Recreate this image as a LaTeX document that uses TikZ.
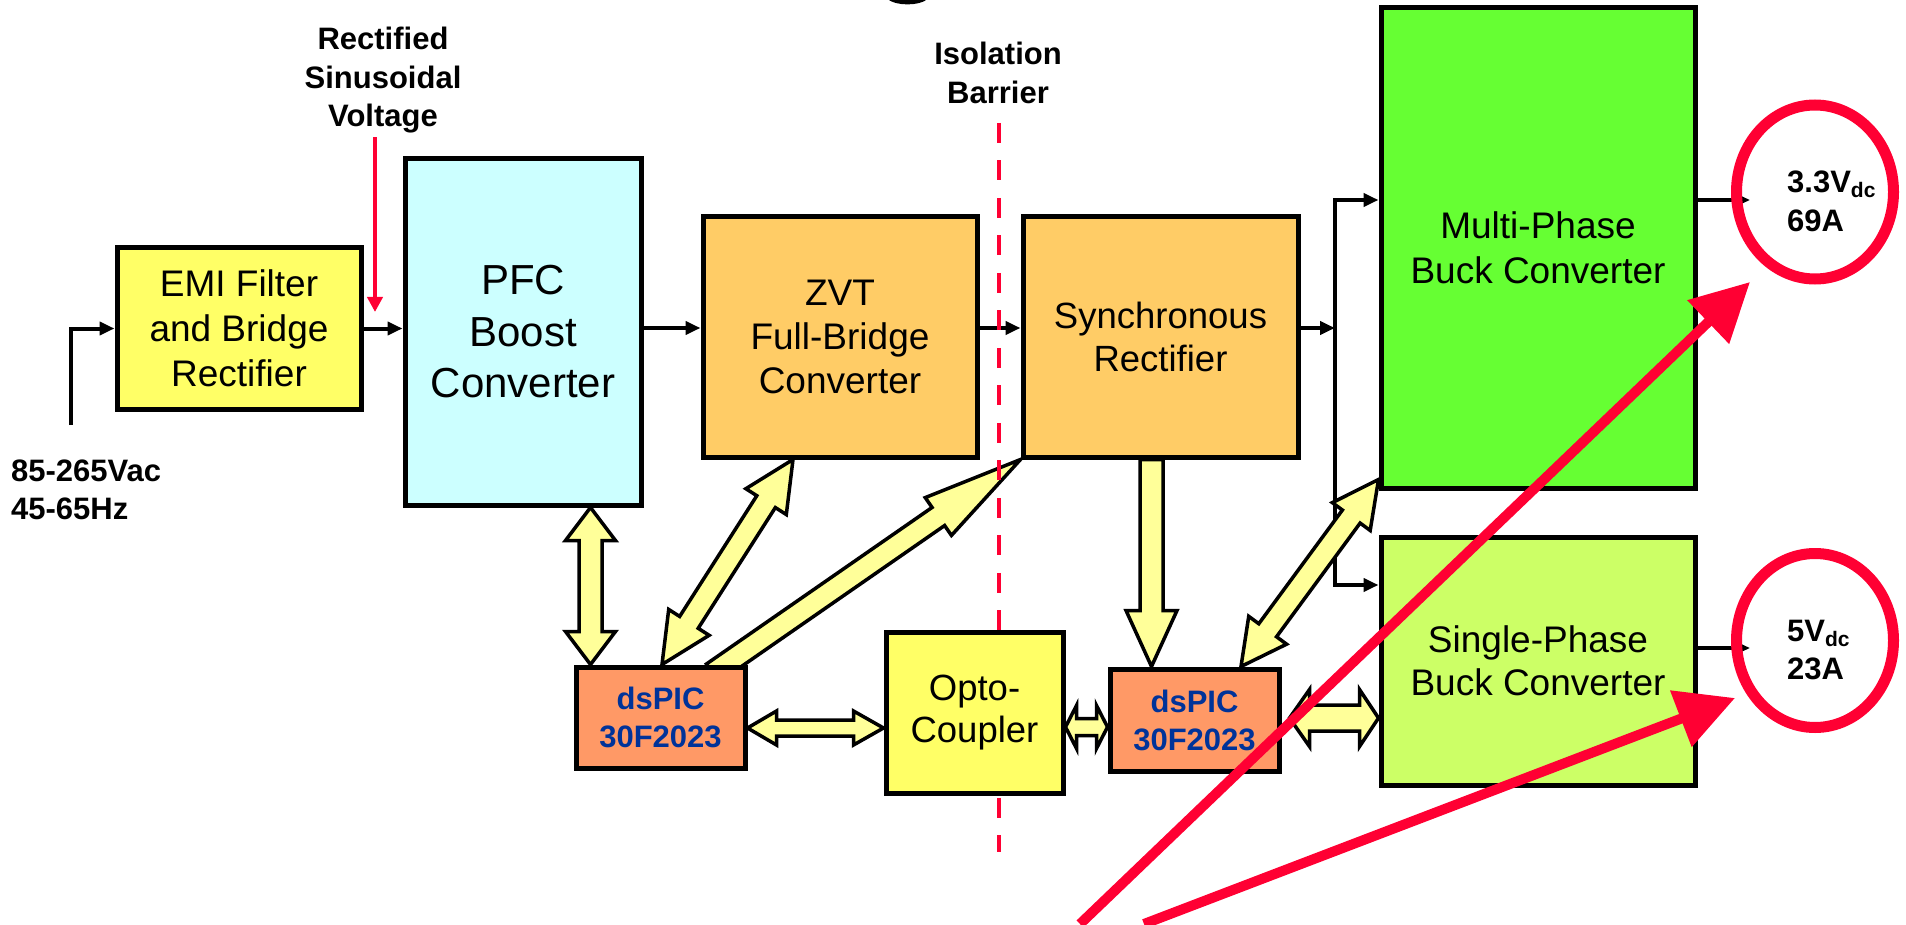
\documentclass[tikz,border=0pt]{standalone}
\usepackage{fontspec}
\setmainfont{Liberation Sans}
\usetikzlibrary{arrows.meta,calc,backgrounds}

\definecolor{emiyellow}{RGB}{255,255,102}
\definecolor{pfccyan}{RGB}{204,255,255}
\definecolor{convorange}{RGB}{255,204,102}
\definecolor{mpgreen}{RGB}{102,255,51}
\definecolor{spgreen}{RGB}{204,255,102}
\definecolor{picorange}{RGB}{255,153,102}
\definecolor{picblue}{RGB}{0,51,153}
\definecolor{fatyellow}{RGB}{255,255,153}
\definecolor{alertred}{RGB}{255,0,51}

% subscript "dc" for the output voltages
\newcommand\dcsub{\raisebox{-5pt}{\fontsize{21}{21}\selectfont dc}}

% double-headed block arrow: from, to, shaft half width, head half width,
% head length at "from", head length at "to" (all in pt)
\newcommand\dblfat[6]{%
  \filldraw[fat] let \p1=(#1), \p2=(#2), \n1={atan2(\y2-\y1,\x2-\x1)} in
    (\p1)
    -- ($(\p1)+(\n1:#5pt)+(\n1+90:#4pt)$)
    -- ($(\p1)+(\n1:#5pt)+(\n1+90:#3pt)$)
    -- ($(\p2)+(\n1+180:#6pt)+(\n1+90:#3pt)$)
    -- ($(\p2)+(\n1+180:#6pt)+(\n1+90:#4pt)$)
    -- (\p2)
    -- ($(\p2)+(\n1+180:#6pt)+(\n1-90:#4pt)$)
    -- ($(\p2)+(\n1+180:#6pt)+(\n1-90:#3pt)$)
    -- ($(\p1)+(\n1:#5pt)+(\n1-90:#3pt)$)
    -- ($(\p1)+(\n1:#5pt)+(\n1-90:#4pt)$)
    -- cycle;}

% single-headed block arrow: from (flat tail), to (tip), shaft half width,
% head half width, head length
\newcommand\onefat[5]{%
  \filldraw[fat] let \p1=(#1), \p2=(#2), \n1={atan2(\y2-\y1,\x2-\x1)} in
    ($(\p1)+(\n1+90:#3pt)$)
    -- ($(\p2)+(\n1+180:#5pt)+(\n1+90:#3pt)$)
    -- ($(\p2)+(\n1+180:#5pt)+(\n1+90:#4pt)$)
    -- (\p2)
    -- ($(\p2)+(\n1+180:#5pt)+(\n1-90:#4pt)$)
    -- ($(\p2)+(\n1+180:#5pt)+(\n1-90:#3pt)$)
    -- ($(\p1)+(\n1-90:#3pt)$)
    -- cycle;}

\tikzset{
  blk/.style={draw=black, line width=5pt, inner sep=0pt, align=center},
  tipb/.tip={Triangle[length=15pt,width=13pt]},
  wire/.style={draw=black, line width=4pt, -tipb},
  fat/.style={fill=fatyellow, draw=black, line width=3.5pt, line join=miter},
  lbl/.style={inner sep=0pt, font=\bfseries\fontsize{31}{38.5}\selectfont},
  barrier/.style={draw=alertred, line width=4.5pt, dash pattern=on 20pt off 17.5pt},
  annot/.style={draw=alertred, line width=10pt, -{Triangle[length=58pt,width=58pt]}},
  ring/.style={draw=alertred, line width=11pt},
}

\begin{document}
\begin{tikzpicture}[x=1pt,y=-1pt]
\begin{pgfonlayer}{background}
  \fill[white] (0,0) rectangle (1906,925);
\end{pgfonlayer}
\useasboundingbox (0,0) rectangle (1906,925);

% ---- blocks ----
\node[blk, fill=emiyellow, minimum width=244pt, minimum height=162pt,
      font=\fontsize{37}{45}\selectfont] (emi) at (239,328.5) {EMI Filter\\and Bridge\\Rectifier};
\node[blk, fill=pfccyan, minimum width=236pt, minimum height=346pt,
      font=\fontsize{42}{51.5}\selectfont] (pfc) at (523,332) {PFC\\Boost\\Converter};
\node[blk, fill=convorange, minimum width=274pt, minimum height=240pt,
      font=\fontsize{37}{44}\selectfont] (zvt) at (840,337) {ZVT\\Full-Bridge\\Converter};
\node[blk, fill=convorange, minimum width=275pt, minimum height=240pt,
      font=\fontsize{36.5}{43}\selectfont] (sr) at (1160.5,337) {Synchronous\\Rectifier};
\node[blk, fill=mpgreen, minimum width=314pt, minimum height=480pt,
      font=\fontsize{37}{45}\selectfont] (mp) at (1538,248) {Multi-Phase\\Buck Converter};
\node[blk, fill=spgreen, minimum width=314pt, minimum height=248pt,
      font=\fontsize{37}{43}\selectfont] (sp) at (1538,661) {Single-Phase\\Buck Converter};
\node[blk, fill=picorange, minimum width=169pt, minimum height=101pt, text=picblue,
      font=\bfseries\fontsize{31}{38}\selectfont] (dsp1) at (660.5,717.5) {dsPIC\\30F2023};
\node[blk, fill=picorange, minimum width=169pt, minimum height=102pt, text=picblue,
      font=\bfseries\fontsize{31}{38}\selectfont] (dsp2) at (1194.5,720) {dsPIC\\30F2023};
\node[blk, fill=emiyellow, minimum width=177pt, minimum height=161pt,
      font=\fontsize{36.5}{42}\selectfont] (opto) at (974.5,712.5) {Opto-\\Coupler};

% ---- labels ----
\node[lbl, align=center] (rsv) at (383,80.5) {Rectified\\Sinusoidal\\Voltage};
\node[lbl, align=center] (iso) at (998,73) {Isolation\\Barrier};
\node[lbl, align=left, anchor=west] (acin) at (11,490) {85-265Vac\\45-65Hz};
\node[lbl, align=left, anchor=west] (out33) at (1787,201.5) {3.3V\dcsub\\69A};
\node[lbl, align=left, anchor=west] (out5) at (1787,650) {5V\dcsub\\23A};

% ---- junction points ----
\coordinate (rail) at (0,328);
\coordinate (acfoot) at (70.5,425);
\coordinate (bus) at (1335,328);
\coordinate (mpin) at (1335,200);
\coordinate (spin) at (1335,585);
\coordinate (out1) at (1750,200);
\coordinate (out2) at (1750,648);
\coordinate (bartop) at ($(iso.south)+(1,19)$);
\coordinate (barbot) at (999,852);

\begin{pgfonlayer}{background}
  % power path
  \draw[wire] (acfoot) -- (acfoot |- emi.west) -- (emi.west);
  \draw[wire] (emi.east) -- (emi.east -| pfc.west);
  \draw[wire] (pfc.east |- rail) -- (zvt.west |- rail);
  \draw[wire] (zvt.east |- rail) -- (sr.west |- rail);
  \draw[wire] (sr.east |- rail) -- (bus);
  \draw[wire, tipb-tipb] (mp.west |- mpin) -- (mpin) -- (spin) -- (sp.west |- spin);
  \draw[wire] (mp.east |- mpin) -- (out1);
  \draw[wire] (sp.east |- out2) -- (out2);

  % control / communication block arrows
  \coordinate (fa1) at ($(pfc.south)+(67.5,0)$);
  \coordinate (fa2) at ($(dsp1.north)+(-70,0)$);
  \dblfat{fa1}{fa2}{11.5}{25}{33}{33}
  \coordinate (fb1) at ($(zvt.south)+(-47,0)$);
  \coordinate (fb2) at ($(dsp1.north)+(1.5,0)$);
  \dblfat{fb1}{fb2}{11}{24}{50}{50}
  \coordinate (fc1) at ($(dsp1.north)+(64.5,0)$);
  \coordinate (fc0) at ($(fc1)!-15pt!(sr.south west)$);
  \onefat{fc0}{sr.south west}{11}{23}{100}
  \coordinate (fd1) at ($(sr.south)+(-9,0)$);
  \coordinate (fd2) at ($(dsp2.north)+(-43,0)$);
  \onefat{fd1}{fd2}{11.5}{25.5}{56}
  \coordinate (fe1) at ($(dsp2.north)+(46.5,0)$);
  \coordinate (fe2) at ($(mp.south west)+(0,-11)$);
  \dblfat{fe1}{fe2}{11}{23.5}{45}{46}
  \coordinate (ff1) at ($(dsp1.east)+(0,10.5)$);
  \coordinate (ff2) at (ff1 -| opto.west);
  \dblfat{ff1}{ff2}{8}{17}{29}{30}
  \coordinate (fg1) at ($(opto.east)+(0,14.5)$);
  \coordinate (fg2) at (fg1 -| dsp2.west);
  \dblfat{fg1}{fg2}{8.5}{21.5}{11}{11}
  \coordinate (fh1) at ($(dsp2.east)+(8,-2)$);
  \coordinate (fh2) at (fh1 -| sp.west);
  \dblfat{fh1}{fh2}{13}{28.5}{20}{19}

  % isolation barrier
  \draw[barrier] (bartop) -- (barbot);
\end{pgfonlayer}

% rectified-voltage pointer
\coordinate (rsvtip) at (375,312);
\draw[draw=alertred, line width=4pt, -{Triangle[length=15pt,width=15pt]}]
  ($(rsv.south)+(-8,3.5)$) -- (rsvtip);

% output highlights
\draw[ring] (1815,192) ellipse [x radius=78.5, y radius=87];
\draw[ring] (1815,640.5) ellipse [x radius=78.5, y radius=87];

% cut-off title stroke at the top edge
\draw[line width=5pt] (889,-3) .. controls (896,3.5) and (919,3.5) .. (926,-3);

% annotation arrows
\coordinate (ann1s) at (1080,924);
\coordinate (ann1e) at (1750,282);
\coordinate (ann2s) at (1144,924);
\coordinate (ann2e) at (1735,698);
\draw[annot] (ann1s) -- (ann1e);
\draw[annot] (ann2s) -- (ann2e);
\end{tikzpicture}
\end{document}
